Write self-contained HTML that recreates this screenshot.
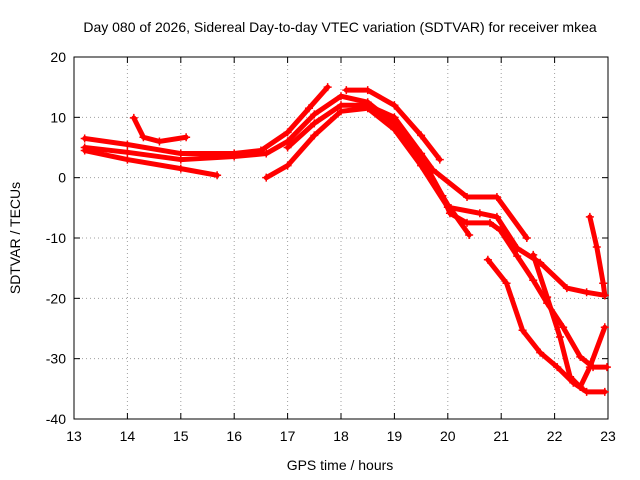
<!DOCTYPE html>
<html><head><meta charset="utf-8"><style>
body{margin:0;background:#fff;}
svg{display:block;font-family:"Liberation Sans",sans-serif;}
</style></head><body>
<svg id="chart" width="640" height="480">
<text x="340" y="32" text-anchor="middle" font-size="14">Day 080 of 2026, Sidereal Day-to-day VTEC variation (SDTVAR) for receiver mkea</text>
<text x="340" y="470" text-anchor="middle" font-size="14">GPS time / hours</text>
<text transform="translate(20,238) rotate(-90)" text-anchor="middle" font-size="14">SDTVAR / TECUs</text>
<g id="grid"></g><g id="axes"></g><g id="series"></g>
</svg>
<script>
const xTicks=[13,14,15,16,17,18,19,20,21,22,23];
const yTicks=[20,10,0,-10,-20,-30,-40];
const s1=[[13.2,6.5],[14,5.5],[15,4],[16,4],[16.5,4.5],[17,7.5],[17.4,11.5],[17.75,15]];
const s2=[[13.2,5],[14,4.2],[15,3],[16,3.5],[16.6,4],[17,6],[17.5,10.5],[18,13.5],[18.5,12.5],[19,9],[19.5,3],[20,-4.5],[20.4,-9.5]];
const s3=[[13.2,4.5],[14,3],[15,1.5],[15.68,0.4]];
const s4=[[14.12,9.9],[14.3,6.7],[14.6,6],[15.1,6.7]];
const s5=[[16.6,0],[17,2],[17.5,7],[18,11],[18.5,11.5],[19,8],[19.5,2],[20,-4.9],[20.6,-5.9],[20.92,-6.5],[21.3,-11.7],[21.73,-14.1],[22.23,-18.3],[22.6,-19],[22.94,-19.5]];
const s6=[[18.1,14.5],[18.5,14.5],[19,12],[19.5,7],[19.85,3]];
const s7=[[18.5,12],[19,10],[19.5,4],[19.72,1.3],[20.36,-3.2],[20.92,-3.2],[21.48,-10]];
const s8=[[17,5],[17.5,9],[18,12],[18.5,12],[19,9.5],[19.5,3.5],[19.9,-3],[20.04,-5.9],[20.36,-7.5],[20.79,-7.5],[20.98,-8.7],[21.3,-13],[21.6,-17],[21.86,-20.8],[22.16,-24.8],[22.48,-29.7],[22.72,-31.4],[22.98,-31.4]];
const s9=[[20.75,-13.6],[21.1,-17.5],[21.4,-25.3],[21.73,-29],[22.05,-31.4],[22.35,-34],[22.6,-35.5],[22.94,-35.5]];
const s10=[[21.6,-12.8],[21.86,-19.8],[22.1,-26.4],[22.29,-33],[22.48,-34.7],[22.66,-31.4],[22.94,-24.8]];
const s11=[[22.66,-6.5],[22.79,-11.5],[22.91,-17.5],[22.94,-19.5]];
const allSeries=[s1,s2,s3,s4,s5,s6,s7,s8,s9,s10,s11];
const X0=74,X1=608,Y0=57,Y1=419;
const xs=v=>X0+(v-13)/(23-13)*(X1-X0);
const ys=v=>Y0+(20-v)/(20-(-40))*(Y1-Y0);
const NS="http://www.w3.org/2000/svg";
const mk=(t,a,p)=>{const e=document.createElementNS(NS,t);for(const k in a)e.setAttribute(k,a[k]);p.appendChild(e);return e;};
const grid=document.getElementById('grid'),axes=document.getElementById('axes'),ser=document.getElementById('series');
xTicks.forEach(t=>{
 if(t>13&&t<23){const l=mk('line',{x1:xs(t),x2:xs(t),y1:Y0,y2:Y1,stroke:'#a0a0a0','stroke-dasharray':'1,3'},grid);
 
 }
 const tx=mk('text',{x:xs(t),y:Y1+22,'text-anchor':'middle','font-size':14},axes);tx.textContent=t;
 
 
 mk('line',{x1:xs(t),x2:xs(t),y1:Y1,y2:Y1-6,stroke:'#000'},axes);
 mk('line',{x1:xs(t),x2:xs(t),y1:Y0,y2:Y0+6,stroke:'#000'},axes);
});
yTicks.forEach(t=>{
 if(t<20&&t>-40){const l=mk('line',{x1:X0,x2:X1,y1:ys(t),y2:ys(t),stroke:'#a0a0a0','stroke-dasharray':'1,3'},grid);
 
 }
 const tx=mk('text',{x:X0-8,y:ys(t)+5,'text-anchor':'end','font-size':14},axes);tx.textContent=t;
 
 
 mk('line',{x1:X0,x2:X0+6,y1:ys(t),y2:ys(t),stroke:'#000'},axes);
 mk('line',{x1:X1,x2:X1-6,y1:ys(t),y2:ys(t),stroke:'#000'},axes);
});
const fr=mk('rect',{x:X0,y:Y0,width:X1-X0,height:Y1-Y0,fill:'none',stroke:'#000'},axes);


allSeries.forEach((s,i)=>{
 const pl=mk('polyline',{points:s.map(p=>xs(p[0])+','+ys(p[1])).join(' '),fill:'none',stroke:'#ff0000','stroke-width':5,'stroke-linejoin':'round','stroke-linecap':'round'},ser);
 
 
 s.forEach(p=>{const x=xs(p[0]),y=ys(p[1]);
  const m=mk('path',{d:`M${x-4},${y}H${x+4}M${x},${y-4}V${y+4}`,stroke:'#ff0000','stroke-width':1.5},ser);
  
  });
});
</script>
</body></html>
